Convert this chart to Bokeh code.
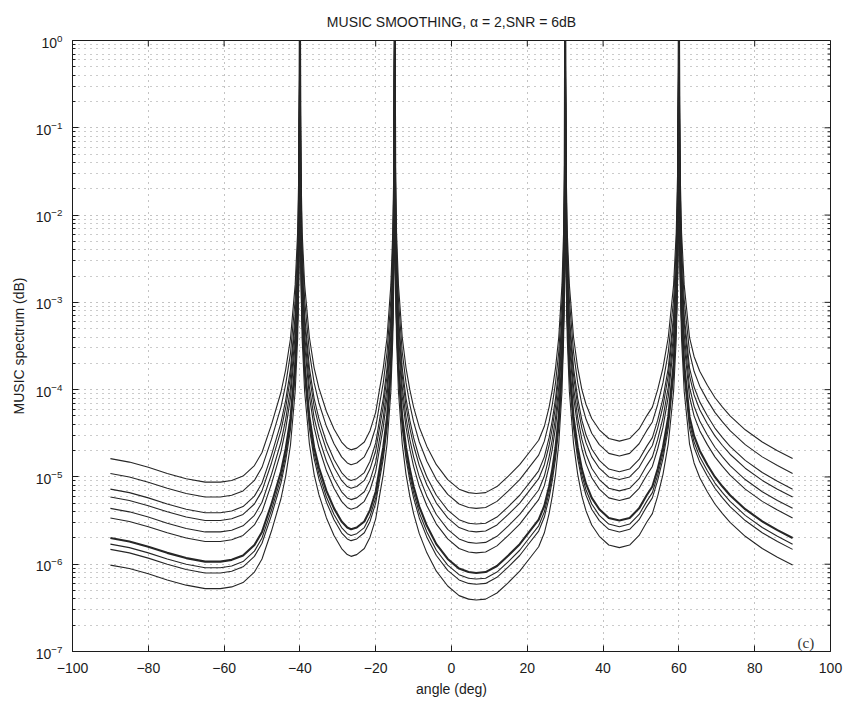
import numpy as np
from bokeh.plotting import figure
from bokeh.models import Range1d, FixedTicker, Label
from bokeh.embed import file_html
from bokeh.resources import INLINE

title_text = "MUSIC SMOOTHING, \u03b1 = 2,SNR = 6dB"
x_label = "angle (deg)"
y_label = "MUSIC spectrum (dB)"
x_ticks = [-100, -80, -60, -40, -20, 0, 20, 40, 60, 80, 100]
y_decades = [1e-7, 1e-6, 1e-5, 1e-4, 1e-3, 1e-2, 1e-1, 1e0]
panel_tag = "(c)"

# angle grid (deg)
angle_deg = [
    -90, -85, -80, -75, -70, -65, -61, -58, -55, -52, -50, -47.5, -45, -43.75, -42.5, -41.25, -40.6, -40.25, -40,
    -39.75, -39.4, -38.75, -37.5, -36.25, -35, -33, -31, -29, -27.5, -26.5, -25, -23, -21.5, -20, -19, -18, -17, -16, -15.5, -15.2, -15,
    -14.8, -14.5, -14, -13, -12, -11, -10, -8.5, -6.5, -4, -1, 2, 4.5, 6.5, 9, 12, 15,
    18, 20.5, 23, 24.5, 25.75, 26.6, 27.45, 28.3, 29.15, 29.575, 29.83, 30,
    30.22, 30.55, 31.1, 32.2, 33.3, 34.4, 35.5, 37, 39, 41.5, 44.3, 47, 49.5, 51.5, 53, 54.4, 55.8, 57.2, 58.6, 59.3, 59.72, 60,
    60.28, 60.7, 61.4, 62.8, 64, 65.5, 67.5, 69.5, 71.5, 73.5, 77.5, 82, 86, 90,
]

# log10 of the MUSIC spectrum for each curve
log10_spec_0 = [
    -4.79, -4.83, -4.89, -4.96, -5.02, -5.06, -5.06, -5.04, -4.99, -4.87, -4.72, -4.40, -4.03, -3.77, -3.42, -2.80, -2.20, -1.40, 0.30,
    -1.40, -2.20, -2.80, -3.40, -3.75, -3.98, -4.25, -4.45, -4.60, -4.67, -4.69, -4.67, -4.60, -4.47, -4.26, -4.00, -3.75, -3.40, -2.80, -2.20, -1.40, 0.30,
    -1.40, -2.20, -2.80, -3.40, -3.75, -4.00, -4.20, -4.43, -4.65, -4.86, -5.03, -5.14, -5.18, -5.19, -5.18, -5.11, -4.99,
    -4.86, -4.72, -4.58, -4.42, -4.20, -4.00, -3.75, -3.40, -2.80, -2.20, -1.40, 0.30,
    -1.40, -2.20, -2.80, -3.40, -3.75, -4.00, -4.17, -4.33, -4.46, -4.56, -4.59, -4.56, -4.45, -4.30, -4.20, -4.00, -3.75, -3.40, -2.80, -2.20, -1.40, 0.30,
    -1.40, -2.20, -2.80, -3.40, -3.62, -3.79, -3.95, -4.09, -4.20, -4.30, -4.46, -4.60, -4.70, -4.79,
]
log10_spec_1 = [
    -4.96, -5.00, -5.06, -5.13, -5.19, -5.23, -5.23, -5.21, -5.16, -5.04, -4.89, -4.57, -4.20, -3.94, -3.59, -2.97, -2.37, -1.57, 0.30,
    -1.57, -2.37, -2.97, -3.57, -3.92, -4.15, -4.42, -4.62, -4.77, -4.84, -4.86, -4.84, -4.77, -4.64, -4.43, -4.17, -3.92, -3.57, -2.97, -2.37, -1.57, 0.30,
    -1.57, -2.37, -2.97, -3.57, -3.92, -4.17, -4.37, -4.60, -4.82, -5.03, -5.20, -5.31, -5.35, -5.36, -5.35, -5.28, -5.16,
    -5.03, -4.89, -4.75, -4.59, -4.37, -4.17, -3.92, -3.57, -2.97, -2.37, -1.57, 0.30,
    -1.57, -2.37, -2.97, -3.57, -3.92, -4.17, -4.34, -4.50, -4.63, -4.73, -4.76, -4.73, -4.62, -4.47, -4.37, -4.17, -3.92, -3.57, -2.97, -2.37, -1.57, 0.30,
    -1.57, -2.37, -2.97, -3.57, -3.79, -3.96, -4.12, -4.26, -4.37, -4.47, -4.63, -4.77, -4.87, -4.96,
]
log10_spec_2 = [
    -5.14, -5.18, -5.24, -5.31, -5.37, -5.41, -5.41, -5.39, -5.34, -5.22, -5.07, -4.75, -4.38, -4.12, -3.77, -3.15, -2.55, -1.75, 0.30,
    -1.75, -2.55, -3.15, -3.75, -4.10, -4.33, -4.60, -4.80, -4.95, -5.02, -5.04, -5.02, -4.95, -4.82, -4.61, -4.35, -4.10, -3.75, -3.15, -2.55, -1.75, 0.30,
    -1.75, -2.55, -3.15, -3.75, -4.10, -4.35, -4.55, -4.78, -5.00, -5.21, -5.38, -5.49, -5.53, -5.54, -5.53, -5.46, -5.34,
    -5.21, -5.07, -4.93, -4.77, -4.55, -4.35, -4.10, -3.75, -3.15, -2.55, -1.75, 0.30,
    -1.75, -2.55, -3.15, -3.75, -4.10, -4.35, -4.52, -4.68, -4.81, -4.91, -4.94, -4.91, -4.80, -4.65, -4.55, -4.35, -4.10, -3.75, -3.15, -2.55, -1.75, 0.30,
    -1.75, -2.55, -3.15, -3.75, -3.97, -4.14, -4.30, -4.44, -4.55, -4.65, -4.81, -4.95, -5.05, -5.14,
]
log10_spec_3 = [
    -5.23, -5.27, -5.33, -5.40, -5.46, -5.50, -5.50, -5.48, -5.43, -5.31, -5.16, -4.84, -4.47, -4.21, -3.86, -3.24, -2.64, -1.84, 0.30,
    -1.84, -2.64, -3.24, -3.84, -4.19, -4.42, -4.69, -4.89, -5.04, -5.11, -5.13, -5.11, -5.04, -4.91, -4.70, -4.44, -4.19, -3.84, -3.24, -2.64, -1.84, 0.30,
    -1.84, -2.64, -3.24, -3.84, -4.19, -4.44, -4.64, -4.87, -5.09, -5.30, -5.47, -5.58, -5.62, -5.63, -5.62, -5.55, -5.43,
    -5.30, -5.16, -5.02, -4.86, -4.64, -4.44, -4.19, -3.84, -3.24, -2.64, -1.84, 0.30,
    -1.84, -2.64, -3.24, -3.84, -4.19, -4.44, -4.61, -4.77, -4.90, -5.00, -5.03, -5.00, -4.89, -4.74, -4.64, -4.44, -4.19, -3.84, -3.24, -2.64, -1.84, 0.30,
    -1.84, -2.64, -3.24, -3.84, -4.06, -4.23, -4.39, -4.53, -4.64, -4.74, -4.90, -5.04, -5.14, -5.23,
]
log10_spec_4 = [
    -5.36, -5.40, -5.46, -5.53, -5.59, -5.63, -5.63, -5.61, -5.56, -5.44, -5.29, -4.97, -4.60, -4.34, -3.99, -3.37, -2.77, -1.97, 0.30,
    -1.97, -2.77, -3.37, -3.97, -4.32, -4.55, -4.82, -5.02, -5.17, -5.24, -5.26, -5.24, -5.17, -5.04, -4.83, -4.57, -4.32, -3.97, -3.37, -2.77, -1.97, 0.30,
    -1.97, -2.77, -3.37, -3.97, -4.32, -4.57, -4.77, -5.00, -5.22, -5.43, -5.60, -5.71, -5.75, -5.76, -5.75, -5.68, -5.56,
    -5.43, -5.29, -5.15, -4.99, -4.77, -4.57, -4.32, -3.97, -3.37, -2.77, -1.97, 0.30,
    -1.97, -2.77, -3.37, -3.97, -4.32, -4.57, -4.74, -4.90, -5.03, -5.13, -5.16, -5.13, -5.02, -4.87, -4.77, -4.57, -4.32, -3.97, -3.37, -2.77, -1.97, 0.30,
    -1.97, -2.77, -3.37, -3.97, -4.19, -4.36, -4.52, -4.66, -4.77, -4.87, -5.03, -5.17, -5.27, -5.36,
]
log10_spec_5 = [
    -5.47, -5.51, -5.57, -5.64, -5.70, -5.74, -5.74, -5.72, -5.67, -5.55, -5.40, -5.08, -4.71, -4.45, -4.10, -3.48, -2.88, -2.08, 0.30,
    -2.08, -2.88, -3.48, -4.08, -4.43, -4.66, -4.93, -5.13, -5.28, -5.35, -5.37, -5.35, -5.28, -5.15, -4.94, -4.68, -4.43, -4.08, -3.48, -2.88, -2.08, 0.30,
    -2.08, -2.88, -3.48, -4.08, -4.43, -4.68, -4.88, -5.11, -5.33, -5.54, -5.71, -5.82, -5.86, -5.87, -5.86, -5.79, -5.67,
    -5.54, -5.40, -5.26, -5.10, -4.88, -4.68, -4.43, -4.08, -3.48, -2.88, -2.08, 0.30,
    -2.08, -2.88, -3.48, -4.08, -4.43, -4.68, -4.85, -5.01, -5.14, -5.24, -5.27, -5.24, -5.13, -4.98, -4.88, -4.68, -4.43, -4.08, -3.48, -2.88, -2.08, 0.30,
    -2.08, -2.88, -3.48, -4.08, -4.30, -4.47, -4.63, -4.77, -4.88, -4.98, -5.14, -5.28, -5.38, -5.47,
]
log10_spec_6 = [  # the heavy curve
    -5.70, -5.74, -5.80, -5.87, -5.93, -5.97, -5.97, -5.95, -5.90, -5.78, -5.63, -5.31, -4.94, -4.68, -4.33, -3.71, -3.11, -2.31, 0.30,
    -2.31, -3.11, -3.71, -4.31, -4.66, -4.89, -5.16, -5.36, -5.51, -5.58, -5.60, -5.58, -5.51, -5.38, -5.17, -4.91, -4.66, -4.31, -3.71, -3.11, -2.31, 0.30,
    -2.31, -3.11, -3.71, -4.31, -4.66, -4.91, -5.11, -5.34, -5.56, -5.77, -5.94, -6.05, -6.09, -6.10, -6.09, -6.02, -5.90,
    -5.77, -5.63, -5.49, -5.33, -5.11, -4.91, -4.66, -4.31, -3.71, -3.11, -2.31, 0.30,
    -2.31, -3.11, -3.71, -4.31, -4.66, -4.91, -5.08, -5.24, -5.37, -5.47, -5.50, -5.47, -5.36, -5.21, -5.11, -4.91, -4.66, -4.31, -3.71, -3.11, -2.31, 0.30,
    -2.31, -3.11, -3.71, -4.31, -4.53, -4.70, -4.86, -5.00, -5.11, -5.21, -5.37, -5.51, -5.61, -5.70,
]
log10_spec_7 = [
    -5.77, -5.81, -5.87, -5.94, -6.00, -6.04, -6.04, -6.02, -5.97, -5.85, -5.70, -5.38, -5.01, -4.75, -4.40, -3.78, -3.18, -2.38, 0.30,
    -2.38, -3.18, -3.78, -4.38, -4.73, -4.96, -5.23, -5.43, -5.58, -5.65, -5.67, -5.65, -5.58, -5.45, -5.24, -4.98, -4.73, -4.38, -3.78, -3.18, -2.38, 0.30,
    -2.38, -3.18, -3.78, -4.38, -4.73, -4.98, -5.18, -5.41, -5.63, -5.84, -6.01, -6.12, -6.16, -6.17, -6.16, -6.09, -5.97,
    -5.84, -5.70, -5.56, -5.40, -5.18, -4.98, -4.73, -4.38, -3.78, -3.18, -2.38, 0.30,
    -2.38, -3.18, -3.78, -4.38, -4.73, -4.98, -5.15, -5.31, -5.44, -5.54, -5.57, -5.54, -5.43, -5.28, -5.18, -4.98, -4.73, -4.38, -3.78, -3.18, -2.38, 0.30,
    -2.38, -3.18, -3.78, -4.38, -4.60, -4.77, -4.93, -5.07, -5.18, -5.28, -5.44, -5.58, -5.68, -5.77,
]
log10_spec_8 = [
    -5.83, -5.87, -5.93, -6.00, -6.06, -6.10, -6.10, -6.08, -6.03, -5.91, -5.76, -5.44, -5.07, -4.81, -4.46, -3.84, -3.24, -2.44, 0.30,
    -2.44, -3.24, -3.84, -4.44, -4.79, -5.02, -5.29, -5.49, -5.64, -5.71, -5.73, -5.71, -5.64, -5.51, -5.30, -5.04, -4.79, -4.44, -3.84, -3.24, -2.44, 0.30,
    -2.44, -3.24, -3.84, -4.44, -4.79, -5.04, -5.24, -5.47, -5.69, -5.90, -6.07, -6.18, -6.22, -6.23, -6.22, -6.15, -6.03,
    -5.90, -5.76, -5.62, -5.46, -5.24, -5.04, -4.79, -4.44, -3.84, -3.24, -2.44, 0.30,
    -2.44, -3.24, -3.84, -4.44, -4.79, -5.04, -5.21, -5.37, -5.50, -5.60, -5.63, -5.60, -5.49, -5.34, -5.24, -5.04, -4.79, -4.44, -3.84, -3.24, -2.44, 0.30,
    -2.44, -3.24, -3.84, -4.44, -4.66, -4.83, -4.99, -5.13, -5.24, -5.34, -5.50, -5.64, -5.74, -5.83,
]
log10_spec_9 = [
    -6.01, -6.05, -6.11, -6.18, -6.24, -6.28, -6.28, -6.26, -6.21, -6.09, -5.94, -5.62, -5.25, -4.99, -4.64, -4.02, -3.42, -2.62, 0.30,
    -2.62, -3.42, -4.02, -4.62, -4.97, -5.20, -5.47, -5.67, -5.82, -5.89, -5.91, -5.89, -5.82, -5.69, -5.48, -5.22, -4.97, -4.62, -4.02, -3.42, -2.62, 0.30,
    -2.62, -3.42, -4.02, -4.62, -4.97, -5.22, -5.42, -5.65, -5.87, -6.08, -6.25, -6.36, -6.40, -6.41, -6.40, -6.33, -6.21,
    -6.08, -5.94, -5.80, -5.64, -5.42, -5.22, -4.97, -4.62, -4.02, -3.42, -2.62, 0.30,
    -2.62, -3.42, -4.02, -4.62, -4.97, -5.22, -5.39, -5.55, -5.68, -5.78, -5.81, -5.78, -5.67, -5.52, -5.42, -5.22, -4.97, -4.62, -4.02, -3.42, -2.62, 0.30,
    -2.62, -3.42, -4.02, -4.62, -4.84, -5.01, -5.17, -5.31, -5.42, -5.52, -5.68, -5.82, -5.92, -6.01,
]

curves = [log10_spec_0, log10_spec_1, log10_spec_2, log10_spec_3, log10_spec_4,
          log10_spec_5, log10_spec_6, log10_spec_7, log10_spec_8, log10_spec_9]
heavy_index = 6
for c in curves:
    assert len(c) == len(angle_deg), (len(c), len(angle_deg))

FONT = "Liberation Sans"
INK = "#1c1c1c"

p = figure(width=855, height=708,
           x_range=Range1d(-100, 100), y_range=Range1d(1e-7, 1.0),
           y_axis_type="log", output_backend="svg", toolbar_location=None,
           min_border_left=72, min_border_right=25, min_border_top=40, min_border_bottom=57,
           title=title_text)

p.background_fill_color = "white"
p.border_fill_color = "white"
p.outline_line_color = INK
p.outline_line_width = 1

p.title.align = "center"
p.title.text_font = FONT
p.title.text_font_size = "14px"
p.title.text_font_style = "normal"
p.title.text_color = INK
p.title.standoff = 22

x_ticker = FixedTicker(ticks=x_ticks)
y_minor = [m * d for d in y_decades[:-1] for m in range(2, 10)]
y_ticker = FixedTicker(ticks=y_decades, minor_ticks=y_minor)


def style_axis(ax, standoff):
    ax.axis_line_color = INK
    ax.axis_line_width = 1
    ax.major_tick_in = 6
    ax.major_tick_out = 0
    ax.minor_tick_in = 3
    ax.minor_tick_out = 0
    ax.major_tick_line_color = INK
    ax.minor_tick_line_color = INK
    ax.major_label_text_font = FONT
    ax.major_label_text_color = INK
    ax.major_label_text_font_size = "14px"
    ax.major_label_standoff = standoff
    ax.axis_label_text_font = FONT
    ax.axis_label_text_font_size = "14px"
    ax.axis_label_text_font_style = "normal"
    ax.axis_label_text_color = INK


xa = p.xaxis[0]
xa.ticker = x_ticker
xa.axis_label = x_label
style_axis(xa, 11)
xa.axis_label_standoff = 5

ya = p.yaxis[0]
ya.ticker = y_ticker
ya.axis_label = y_label
style_axis(ya, 10)
ya.axis_label_standoff = 6

GRID = "#6a6a6a"
p.xgrid.grid_line_color = GRID
p.xgrid.grid_line_dash = "1 5"
p.xgrid.grid_line_alpha = 0.8
p.ygrid.grid_line_color = GRID
p.ygrid.grid_line_dash = "1 5"
p.ygrid.grid_line_alpha = 0.8
p.ygrid.minor_grid_line_color = GRID
p.ygrid.minor_grid_line_dash = "1 5"
p.ygrid.minor_grid_line_alpha = 0.7

# mirrored inward ticks on the top and right frame edges (clipped to the frame,
# so only the inner half of each centred dash shows)
p.scatter(x=x_ticks, y=[y_decades[-1]] * len(x_ticks), marker="dash", size=12,
          angle=np.pi / 2, line_color=INK, line_width=1)
p.scatter(x=[x_ticks[-1]] * len(y_decades), y=y_decades, marker="dash", size=12,
          line_color=INK, line_width=1)
p.scatter(x=[x_ticks[-1]] * len(y_minor), y=y_minor, marker="dash", size=6,
          line_color=INK, line_width=1)

x_arr = np.array(angle_deg)
for i, lv in enumerate(curves):
    y = np.power(10.0, np.array(lv))
    p.line(x_arr, y, line_color="#262626",
           line_width=2.1 if i == heavy_index else 1.1,
           line_join="round")

p.add_layout(Label(x=93.5, y=1.25e-7, text=panel_tag, text_font="Liberation Serif",
                   text_font_size="15px", text_align="center", text_baseline="middle",
                   text_color="#333333"))

open("out.html", "w").write(file_html(p, INLINE))
